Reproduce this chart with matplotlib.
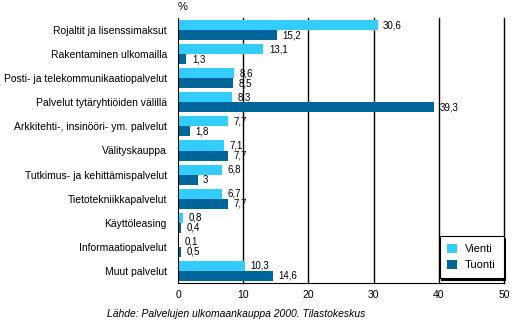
import matplotlib
matplotlib.use("Agg")
import matplotlib.pyplot as plt
import numpy as np

categories = [
    "Rojaltit ja lisenssimaksut",
    "Rakentaminen ulkomailla",
    "Posti- ja telekommunikaatiopalvelut",
    "Palvelut tytäryhtiöiden välillä",
    "Arkkitehti-, insinööri- ym. palvelut",
    "Välityskauppa",
    "Tutkimus- ja kehittämispalvelut",
    "Tietotekniikkapalvelut",
    "Käyttöleasing",
    "Informaatiopalvelut",
    "Muut palvelut",
]
vienti = [30.6, 13.1, 8.6, 8.3, 7.7, 7.1, 6.8, 6.7, 0.8, 0.1, 10.3]
tuonti = [15.2, 1.3, 8.5, 39.3, 1.8, 7.7, 3.0, 7.7, 0.4, 0.5, 14.6]
xticks = [0, 10, 20, 30, 40, 50]

plt.rcParams['font.family'] = ['Liberation Sans', 'DejaVu Sans']

fig = plt.figure(figsize=(5.12, 3.23), dpi=100)
ax = fig.add_axes([178/512, 1-283/323, (504-178)/512, (283-18)/323])

light = '#33CCFF'
dark = '#006699'
y = np.arange(len(categories))
h = 10/24
off = 5/24
ax.barh(y - off, vienti, height=h, color=light, zorder=3, label='Vienti')
ax.barh(y + off, tuonti, height=h, color=dark, zorder=3, label='Tuonti')

def fmt(v):
    if float(v).is_integer():
        return str(int(v))
    return f"{v:.1f}".replace('.', ',')

for yy, v in zip(y - off, vienti):
    ax.annotate(fmt(v), (v, yy), xytext=(4, 0), textcoords='offset points',
                va='center', ha='left', fontsize=7, zorder=2)
for yy, v in zip(y + off, tuonti):
    ax.annotate(fmt(v), (v, yy), xytext=(4, 0), textcoords='offset points',
                va='center', ha='left', fontsize=7, zorder=2)

ax.set_xlim(0, 50)
ax.set_ylim(len(categories) - 0.5, -0.5)
ax.set_xticks(xticks)
ax.set_xticklabels([str(t) for t in xticks], fontsize=7.5)
ax.set_yticks(y)
ax.set_yticklabels(categories, fontsize=7.5)
ax.tick_params(axis='y', length=0, pad=8)
ax.tick_params(axis='x', length=0, pad=5)
for t in xticks[1:]:
    ax.axvline(t, color='black', lw=1, zorder=2.5, clip_on=False)
ax.spines['top'].set_visible(False)
ax.spines['right'].set_visible(False)
ax.spines['left'].set_color('black')
ax.spines['bottom'].set_color('black')
ax.spines['left'].set_zorder(4)
ax.spines['bottom'].set_zorder(4)

leg = ax.legend(loc='lower right', bbox_to_anchor=(0.999, 0.018), fontsize=8,
                frameon=True, fancybox=False,
                shadow={'color': 'black', 'alpha': 1, 'ox': 1.0, 'oy': -1.2},
                edgecolor='black', handlelength=0.9, handleheight=0.8,
                borderpad=0.7, labelspacing=0.55, handletextpad=0.7,
                borderaxespad=0)
leg.get_frame().set_linewidth(0.8)
leg.set_zorder(5)

fig.text(178/512, 1-7/323, '%', fontsize=8, ha='left', va='center')
fig.text(236/512, 1-314/323, 'Lähde: Palvelujen ulkomaankauppa 2000. Tilastokeskus',
         fontsize=7.5, style='italic', ha='center', va='center')

fig.savefig('out.png', dpi=100)
